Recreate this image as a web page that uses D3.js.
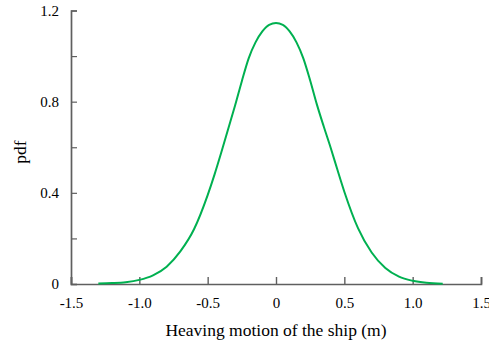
<!DOCTYPE html>
<html><head><meta charset="utf-8">
<script src="https://cdn.jsdelivr.net/npm/d3@7"></script>
<style>
html,body{margin:0;padding:0;background:#fff;}
svg{display:block;}
text{font-family:"Liberation Serif","Times New Roman",serif;fill:#000;}
</style></head>
<body>
<svg id="c" width="489" height="344"></svg>
<script>
const xValues = [-1.3,-1.2,-1.1,-1.0,-0.9,-0.8,-0.7,-0.6,-0.5,-0.45,-0.4,-0.35,-0.3,-0.25,-0.2,-0.15,-0.1,-0.05,0,0.05,0.1,0.15,0.2,0.25,0.3,0.35,0.4,0.45,0.5,0.6,0.7,0.8,0.9,1.0,1.1,1.22];
const pdfValues = [0.002,0.004,0.008,0.018,0.038,0.076,0.143,0.240,0.390,0.480,0.578,0.680,0.782,0.890,0.990,1.060,1.108,1.137,1.145,1.137,1.108,1.060,0.990,0.893,0.786,0.690,0.598,0.500,0.405,0.245,0.138,0.070,0.032,0.014,0.005,0.001];
const xTicks = [-1.5,-1.0,-0.5,0,0.5,1.0,1.5];
const xTickLabels = ["-1.5","-1.0","-0.5","0","0.5","1.0","1.5"];
const yTicks = [0,0.2,0.4,0.6,0.8,1.0,1.2];
const yTickLabels = ["0","","0.4","","0.8","","1.2"];
const xTitle = "Heaving motion of the ship (m)";
const yTitle = "pdf";

const svg = d3.select("#c");
const x = d3.scaleLinear().domain([-1.5,1.5]).range([71,481]);
const y = d3.scaleLinear().domain([0,1.2]).range([284,10.5]);
const axisColor = "#5f5f5f";

const xAxis = d3.axisBottom(x).tickValues(xTicks).tickSize(-7).tickPadding(13.5)
  .tickFormat((d,i)=>xTickLabels[i]);
const gx = svg.append("g").attr("transform","translate(0,284)").call(xAxis);
gx.select(".domain").attr("stroke",axisColor).attr("stroke-width",1.7);
gx.selectAll(".tick line").attr("stroke",axisColor).attr("stroke-width",1.4);
gx.selectAll(".tick text").attr("font-size",15).attr("font-family","Liberation Serif").attr("fill","#000");

const yAxis = d3.axisLeft(y).tickValues(yTicks).tickSize(-6).tickPadding(12)
  .tickFormat((d,i)=>yTickLabels[i]);
const gy = svg.append("g").attr("transform","translate(71,0)").call(yAxis);
gy.select(".domain").attr("stroke",axisColor).attr("stroke-width",1.7);
gy.selectAll(".tick line").attr("stroke",axisColor).attr("stroke-width",1.2);
gy.selectAll(".tick text").attr("font-size",15).attr("font-family","Liberation Serif").attr("fill","#000");

const data = xValues.map((v,i)=>[v,pdfValues[i]]);
svg.append("path").datum(data)
  .attr("fill","none").attr("stroke","#00b050").attr("stroke-width",2)
  .attr("d", d3.line().x(d=>x(d[0])).y(d=>y(d[1])).curve(d3.curveMonotoneX));

svg.append("text").attr("x",276).attr("y",336).attr("text-anchor","middle")
  .attr("font-size",17.5).text(xTitle);
svg.append("text").attr("transform","translate(26,152) rotate(-90)")
  .attr("text-anchor","middle").attr("font-size",17.5).text(yTitle);
</script>
</body></html>
